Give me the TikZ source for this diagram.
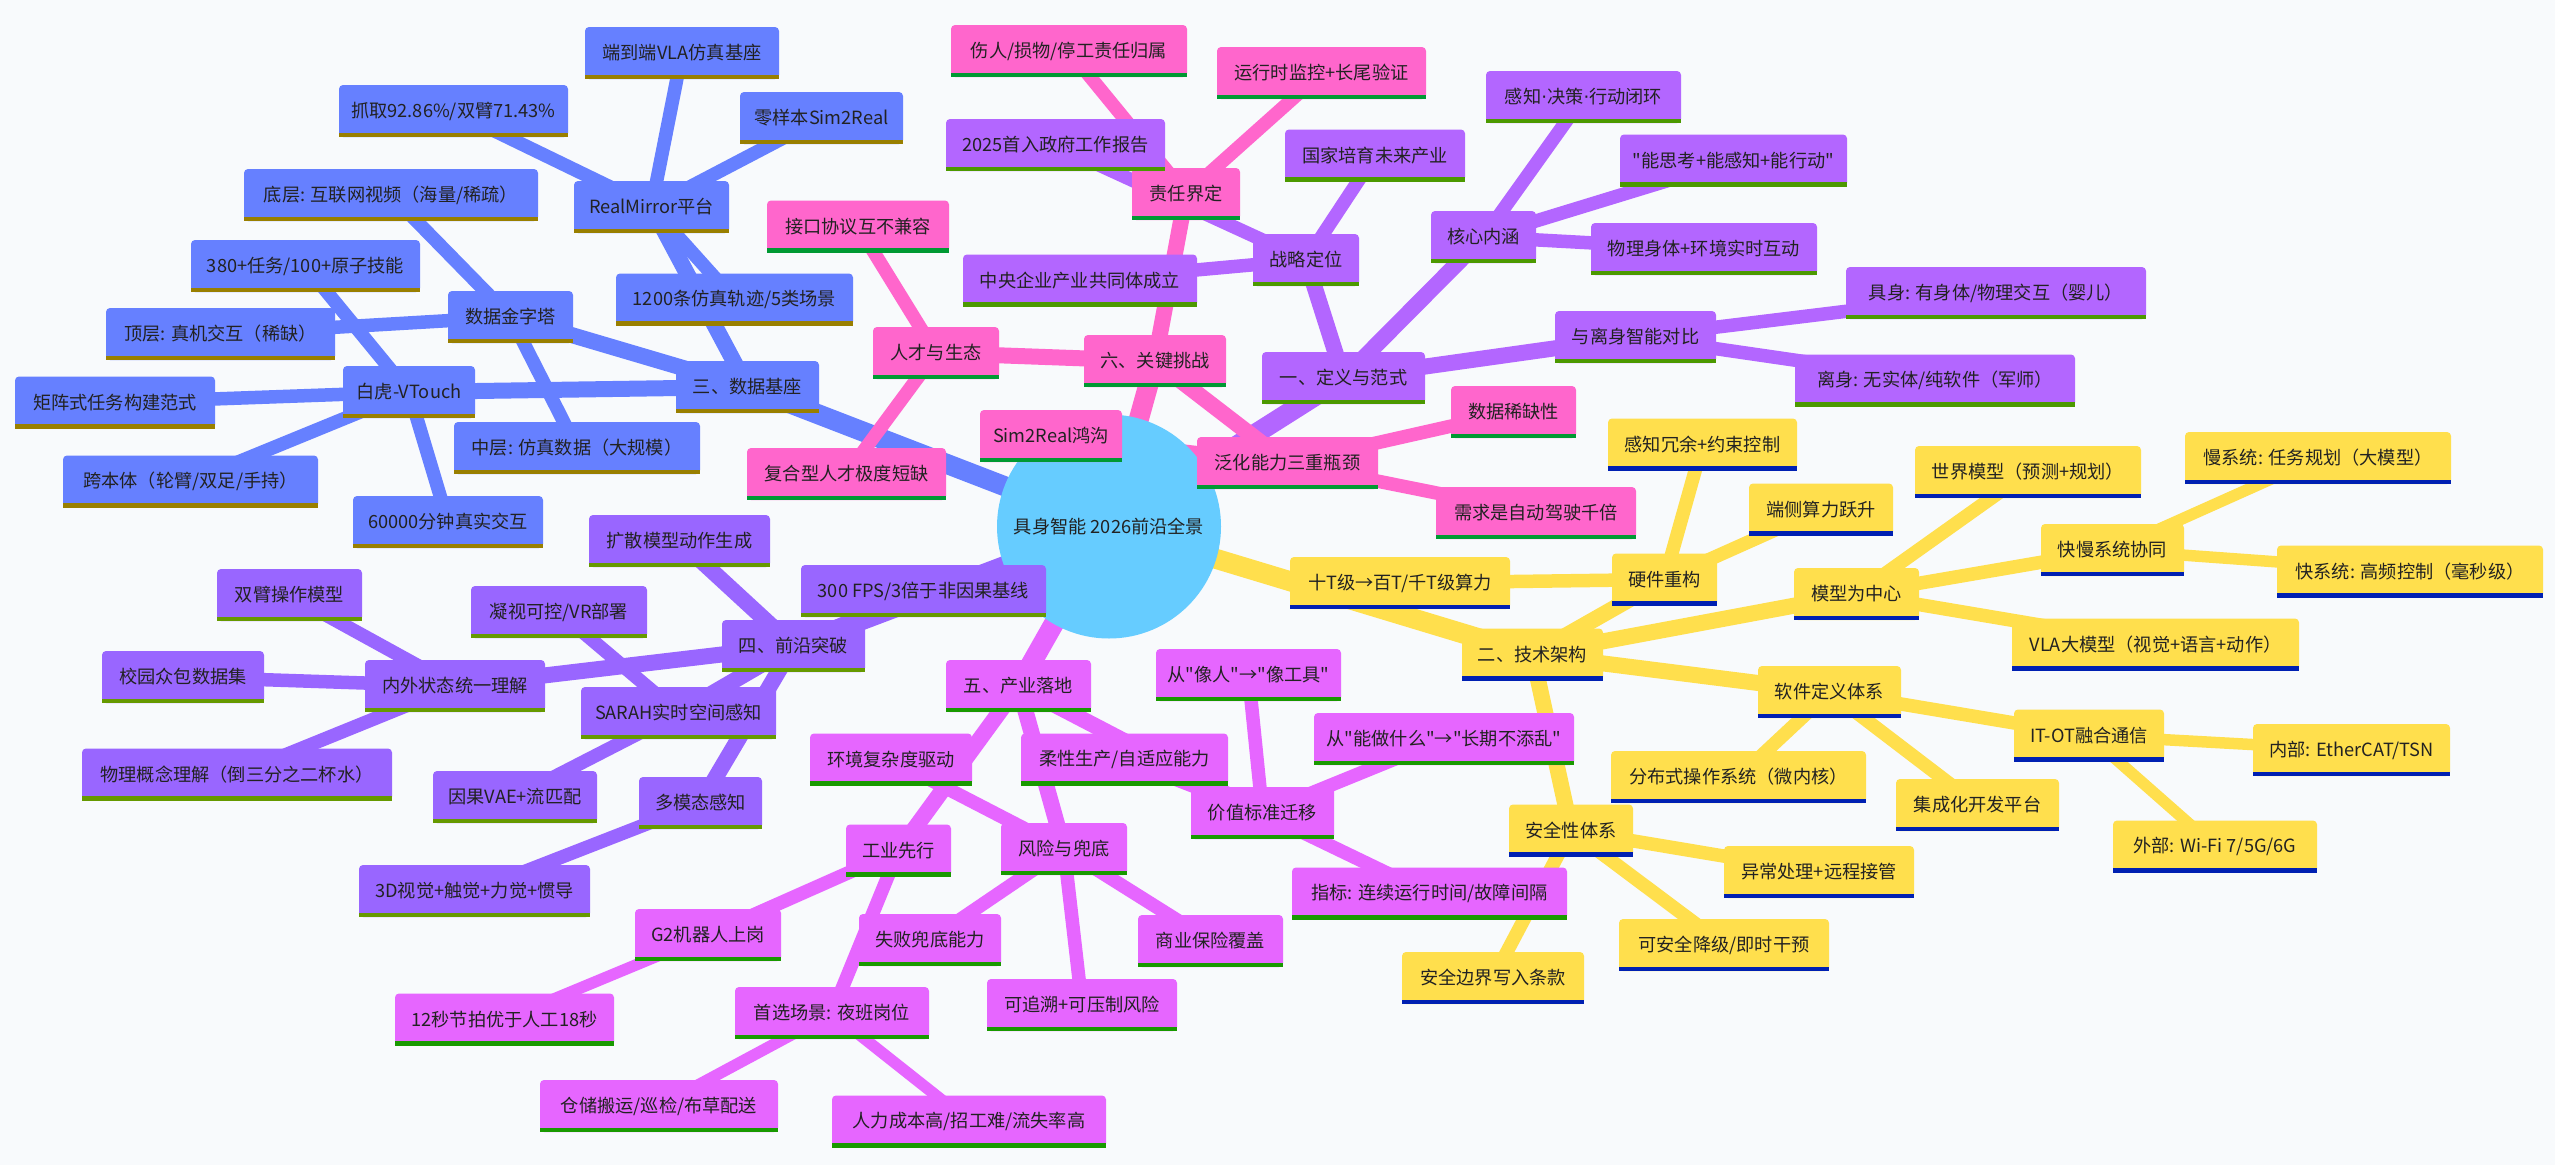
\documentclass[tikz,border=0pt]{standalone}
\usepackage{fontspec}
\setmainfont{Noto Sans CJK SC}
\newfontfamily\cjkf{Noto Sans CJK SC}
\newfontfamily\latnf{DejaVu Sans}
\pgfdeclarelayer{bg}
\pgfsetlayers{bg,main}
\definecolor{bgc}{HTML}{F8FAFC}
\definecolor{rootc}{HTML}{66CCFF}
\definecolor{Bf}{HTML}{6680FF}\definecolor{Bl}{HTML}{997F00}
\definecolor{Pf}{HTML}{FF66CC}\definecolor{Pl}{HTML}{009933}
\definecolor{Uf}{HTML}{B366FF}\definecolor{Ul}{HTML}{4C9900}
\definecolor{Yf}{HTML}{FFDF4D}\definecolor{Yl}{HTML}{0020B2}
\definecolor{Vf}{HTML}{9966FF}\definecolor{Vl}{HTML}{669900}
\definecolor{Mf}{HTML}{E666FF}\definecolor{Ml}{HTML}{199900}
\definecolor{txt}{HTML}{222222}
\newcommand\mmfont{\cjkf\fontsize{18.2pt}{22pt}\selectfont}
\newcommand\mdot{{\latnf ·}}
\tikzset{
  mmbox/.style={rectangle, rounded corners=4pt, minimum height=52pt, inner xsep=8pt, inner ysep=0pt, text=txt, font=\mmfont},
  rootbox/.style={circle, fill=rootc, minimum size=224pt, inner sep=0pt, text=txt, font=\mmfont},
  eone/.style={line width=20pt},
  etwo/.style={line width=16pt},
  ethree/.style={line width=13.5pt},
  efour/.style={line width=11.5pt}
}
\newcommand\mmn[6]{%
  \node[mmbox, fill=#5f, minimum width=#4pt] (#1) at (#2,#3) {#6};
  \fill[#5l] (#1.south west) rectangle ([yshift=4.5pt]#1.south east);}
\begin{document}
\begin{tikzpicture}[x=1pt,y=-1pt]
\useasboundingbox (0,0) rectangle (2555,1165);
\node[rootbox] (root) at (1109,526.5) {具身智能 2026前沿全景};
% blue section
\mmn{vla}{682}{53}{194}{B}{端到端VLA仿真基座}
\mmn{grab}{453.5}{111}{229}{B}{抓取92.86\%/双臂71.43\%}
\mmn{zero}{821.5}{118}{163}{B}{零样本Sim2Real}
\mmn{bottomlayer}{391}{195}{294}{B}{底层: 互联网视频（海量/稀疏）}
\mmn{rm}{651.5}{207}{155}{B}{RealMirror平台}
\mmn{tasks}{305.5}{266}{229}{B}{380+任务/100+原子技能}
\mmn{pyr}{510.5}{317}{125}{B}{数据金字塔}
\mmn{traj}{734.5}{299.5}{237}{B}{1200条仿真轨迹/5类场景}
\mmn{toplayer}{220.5}{334}{229}{B}{顶层: 真机交互（稀缺）}
\mmn{bh}{409}{392}{132}{B}{白虎-VTouch}
\mmn{sthree}{747.5}{387}{143}{B}{三、数据基座}
\mmn{matrix}{115}{402.5}{200}{B}{矩阵式任务构建范式}
\mmn{midlayer}{577}{448}{246}{B}{中层: 仿真数据（大规模）}
\mmn{cross}{190.5}{481.5}{255}{B}{跨本体（轮臂/双足/手持）}
\mmn{minutes}{448}{522}{190}{B}{60000分钟真实交互}
% pink section
\mmn{hurt}{1069}{51}{236}{P}{伤人/损物/停工责任归属}
\mmn{runtime}{1321.5}{73}{209}{P}{运行时监控+长尾验证}
\mmn{resp}{1186}{194}{108}{P}{责任界定}
\mmn{iface}{858}{226.5}{182}{P}{接口协议互不兼容}
\mmn{talent}{936}{353}{126}{P}{人才与生态}
\mmn{ssix}{1155}{361}{142}{P}{六、关键挑战}
\mmn{simreal}{1051}{436}{142}{P}{Sim2Real鸿沟}
\mmn{gen}{1287.5}{463}{181}{P}{泛化能力三重瓶颈}
\mmn{scarce}{1513.5}{412}{125}{P}{数据稀缺性}
\mmn{demand}{1536}{513}{200}{P}{需求是自动驾驶千倍}
\mmn{composite}{846.5}{474}{199}{P}{复合型人才极度短缺}
% purple section
\mmn{loop}{1583.5}{97}{195}{U}{感知\mdot 决策\mdot 行动闭环}
\mmn{gov}{1055.5}{145}{219}{U}{2025首入政府工作报告}
\mmn{future}{1375}{155.5}{180}{U}{国家培育未来产业}
\mmn{think}{1733.5}{160.5}{227}{U}{"能思考+能感知+能行动"}
\mmn{core}{1483.5}{237}{105}{U}{核心内涵}
\mmn{body}{1704}{249}{226}{U}{物理身体+环境实时互动}
\mmn{strat}{1306}{260}{106}{U}{战略定位}
\mmn{soe}{1080}{280.5}{234}{U}{中央企业产业共同体成立}
\mmn{compare}{1635.5}{337}{161}{U}{与离身智能对比}
\mmn{sone}{1343.5}{378}{163}{U}{一、定义与范式}
\mmn{emb}{1996}{293}{300}{U}{具身: 有身体/物理交互（婴儿）}
\mmn{dis}{1935}{380.5}{280}{U}{离身: 无实体/纯软件（军师）}
% yellow section
\mmn{hw}{1664.5}{579.5}{105}{Y}{硬件重构}
\mmn{tflops}{1400}{583}{220}{Y}{十T级→百T/千T级算力}
\mmn{stwo}{1532.5}{654.5}{141}{Y}{二、技术架构}
\mmn{redun}{1702.5}{444.5}{189}{Y}{感知冗余+约束控制}
\mmn{edgec}{1821}{509.5}{144}{Y}{端侧算力跃升}
\mmn{world}{2028}{472}{226}{Y}{世界模型（预测+规划）}
\mmn{slow}{2318}{458}{266}{Y}{慢系统: 任务规划（大模型）}
\mmn{fastslow}{2112.5}{550}{143}{Y}{快慢系统协同}
\mmn{fast}{2410}{571.5}{266}{Y}{快系统: 高频控制（毫秒级）}
\mmn{model}{1856.5}{594}{125}{Y}{模型为中心}
\mmn{vlam}{2155.5}{644.5}{287}{Y}{VLA大模型（视觉+语言+动作）}
\mmn{soft}{1829.5}{692}{143}{Y}{软件定义体系}
\mmn{itot}{2089}{735.5}{150}{Y}{IT-OT融合通信}
\mmn{inner}{2351.5}{750}{197}{Y}{内部: EtherCAT/TSN}
\mmn{dist}{1738.5}{777}{255}{Y}{分布式操作系统（微内核）}
\mmn{ide}{1977.5}{805}{163}{Y}{集成化开发平台}
\mmn{outer}{2215}{846.5}{204}{Y}{外部: Wi-Fi 7/5G/6G}
\mmn{except}{1819}{872}{190}{Y}{异常处理+远程接管}
\mmn{safe}{1571}{830.5}{124}{Y}{安全性体系}
\mmn{degrade}{1724}{945}{210}{Y}{可安全降级/即时干预}
\mmn{bound}{1493}{978}{182}{Y}{安全边界写入条款}
% violet section
\mmn{diff}{679.5}{541}{181}{V}{扩散模型动作生成}
\mmn{fps}{923.5}{591}{245}{V}{300 FPS/3倍于非因果基线}
\mmn{arm}{289.5}{595}{145}{V}{双臂操作模型}
\mmn{gaze}{559}{612}{176}{V}{凝视可控/VR部署}
\mmn{sfour}{793.5}{646}{143}{V}{四、前沿突破}
\mmn{campus}{183}{677}{162}{V}{校园众包数据集}
\mmn{inout}{455}{686}{180}{V}{内外状态统一理解}
\mmn{sarah}{678.5}{713}{195}{V}{SARAH实时空间感知}
\mmn{phys}{237}{774.5}{310}{V}{物理概念理解（倒三分之二杯水）}
\mmn{vae}{515}{797}{164}{V}{因果VAE+流匹配}
\mmn{multi}{700.5}{803}{123}{V}{多模态感知}
\mmn{dthree}{474.5}{891}{231}{V}{3D视觉+触觉+力觉+惯导}
% magenta section
\mmn{sfive}{1018.5}{686}{145}{M}{五、产业落地}
\mmn{like}{1248.5}{675}{185}{M}{从"像人"→"像工具"}
\mmn{cando}{1444}{739}{260}{M}{从"能做什么"→"长期不添乱"}
\mmn{env}{891}{759.5}{162}{M}{环境复杂度驱动}
\mmn{flex}{1124.5}{759.5}{207}{M}{柔性生产/自适应能力}
\mmn{value}{1262.5}{813}{143}{M}{价值标准迁移}
\mmn{ind}{898.5}{850.5}{105}{M}{工业先行}
\mmn{risk}{1064}{849}{126}{M}{风险与兜底}
\mmn{fail}{930}{940}{142}{M}{失败兜底能力}
\mmn{insur}{1210.5}{941}{145}{M}{商业保险覆盖}
\mmn{metric}{1429.5}{893.5}{275}{M}{指标: 连续运行时间/故障间隔}
\mmn{trace}{1082}{1005}{190}{M}{可追溯+可压制风险}
\mmn{gtwo}{708}{935}{146}{M}{G2机器人上岗}
\mmn{beat}{504.5}{1019.5}{219}{M}{12秒节拍优于人工18秒}
\mmn{night}{832}{1013}{194}{M}{首选场景: 夜班岗位}
\mmn{ware}{659}{1106}{238}{M}{仓储搬运/巡检/布草配送}
\mmn{labor}{969}{1121.5}{274}{M}{人力成本高/招工难/流失率高}
\begin{pgfonlayer}{bg}
\fill[bgc] (0,0) rectangle (2555,1165);
% level 1
\draw[eone,Uf] (root.center) -- (sone.center);
\draw[eone,Yf] (root.center) -- (stwo.center);
\draw[eone,Bf] (root.center) -- (sthree.center);
\draw[eone,Vf] (root.center) -- (sfour.center);
\draw[eone,Mf] (root.center) -- (sfive.center);
\draw[eone,Pf] (root.center) -- (ssix.center);
% level 2
\foreach \c in {resp,talent,gen} \draw[etwo,Pf] (ssix.center) -- (\c.center);
\foreach \c in {strat,core,compare} \draw[etwo,Uf] (sone.center) -- (\c.center);
\foreach \c in {hw,model,soft,safe} \draw[etwo,Yf] (stwo.center) -- (\c.center);
\foreach \c in {rm,pyr,bh} \draw[etwo,Bf] (sthree.center) -- (\c.center);
\foreach \c in {diff,fps,inout,sarah,multi} \draw[etwo,Vf] (sfour.center) -- (\c.center);
\foreach \c in {ind,risk,value} \draw[etwo,Mf] (sfive.center) -- (\c.center);
% level 3
\foreach \c in {hurt,runtime} \draw[ethree,Pf] (resp.center) -- (\c.center);
\foreach \c in {iface,composite} \draw[ethree,Pf] (talent.center) -- (\c.center);
\foreach \c in {simreal,scarce,demand} \draw[ethree,Pf] (gen.center) -- (\c.center);
\foreach \c in {gov,future,soe} \draw[ethree,Uf] (strat.center) -- (\c.center);
\foreach \c in {loop,think,body} \draw[ethree,Uf] (core.center) -- (\c.center);
\foreach \c in {emb,dis} \draw[ethree,Uf] (compare.center) -- (\c.center);
\foreach \c in {tflops,redun,edgec} \draw[ethree,Yf] (hw.center) -- (\c.center);
\foreach \c in {world,fastslow,vlam} \draw[ethree,Yf] (model.center) -- (\c.center);
\foreach \c in {dist,ide,itot} \draw[ethree,Yf] (soft.center) -- (\c.center);
\foreach \c in {except,degrade,bound} \draw[ethree,Yf] (safe.center) -- (\c.center);
\foreach \c in {vla,grab,zero,traj} \draw[ethree,Bf] (rm.center) -- (\c.center);
\foreach \c in {bottomlayer,toplayer,midlayer} \draw[ethree,Bf] (pyr.center) -- (\c.center);
\foreach \c in {tasks,matrix,cross,minutes} \draw[ethree,Bf] (bh.center) -- (\c.center);
\foreach \c in {arm,campus,phys} \draw[ethree,Vf] (inout.center) -- (\c.center);
\foreach \c in {gaze,vae} \draw[ethree,Vf] (sarah.center) -- (\c.center);
\draw[ethree,Vf] (multi.center) -- (dthree.center);
\foreach \c in {gtwo,night} \draw[ethree,Mf] (ind.center) -- (\c.center);
\foreach \c in {env,fail,trace,insur} \draw[ethree,Mf] (risk.center) -- (\c.center);
\foreach \c in {flex,like,cando,metric} \draw[ethree,Mf] (value.center) -- (\c.center);
% level 4
\foreach \c in {slow,fast} \draw[efour,Yf] (fastslow.center) -- (\c.center);
\foreach \c in {inner,outer} \draw[efour,Yf] (itot.center) -- (\c.center);
\draw[efour,Mf] (gtwo.center) -- (beat.center);
\foreach \c in {ware,labor} \draw[efour,Mf] (night.center) -- (\c.center);
\end{pgfonlayer}
\end{tikzpicture}
\end{document}
